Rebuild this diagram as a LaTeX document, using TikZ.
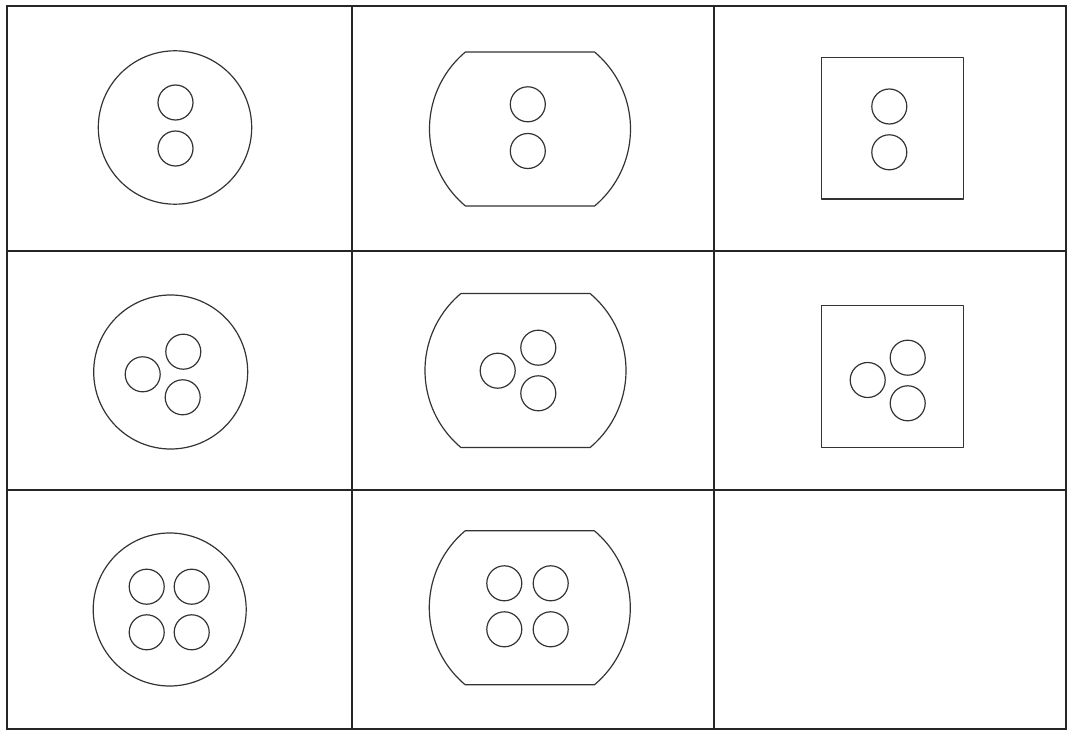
\documentclass[tikz,border=0pt]{standalone}
\begin{document}
\begin{tikzpicture}[x=1pt,y=-1pt,
  grid/.style={draw=black!85,line width=1.8pt},
  outline/.style={draw=black!80,line width=1.2pt,line join=round},
  hole/.style={draw=black!80,line width=1.2pt},
  barrel/.pic={\draw[outline] (64.6,-77) -- (-64.6,-77)
      arc[start angle=-130,end angle=-230,radius=100.5] -- (64.6,77)
      arc[start angle=50,end angle=-50,radius=100.5] -- cycle;}]
\useasboundingbox (0,0) rectangle (1069,730);
% grid
\draw[grid] (7,6) rectangle (1066,729);
\draw[grid] (352,6) -- (352,729);
\draw[grid] (714,6) -- (714,729);
\draw[grid] (7,251) -- (1066,251);
\draw[grid] (7,490) -- (1066,490);
% row 1
\draw[outline] (175,127.5) circle[radius=76.7];
\draw[hole] (175.5,102.5) circle[radius=17.5];
\draw[hole] (175.5,148.5) circle[radius=17.5];
\pic at (530,129) {barrel};
\draw[hole] (527.8,104.3) circle[radius=17.5];
\draw[hole] (527.8,151) circle[radius=17.5];
\draw[outline] (821.7,57.7) rectangle (963.3,199);
\draw[hole] (889.3,106.5) circle[radius=17.5];
\draw[hole] (889.3,152.3) circle[radius=17.5];
% row 2
\draw[outline] (170.7,372) circle[radius=77];
\draw[hole] (142.7,374.3) circle[radius=17.5];
\draw[hole] (183.3,351.7) circle[radius=17.5];
\draw[hole] (182.7,397.3) circle[radius=17.5];
\pic at (525.5,370.5) {barrel};
\draw[hole] (497.7,370.7) circle[radius=17.5];
\draw[hole] (538.3,347.7) circle[radius=17.5];
\draw[hole] (538.3,393.3) circle[radius=17.5];
\draw[outline] (821.7,305.7) rectangle (963.3,447.7);
\draw[hole] (867.7,380) circle[radius=17.5];
\draw[hole] (907.7,357.7) circle[radius=17.5];
\draw[hole] (907.7,403.3) circle[radius=17.5];
% row 3
\draw[outline] (169.7,609.5) circle[radius=76.5];
\draw[hole] (146.7,586.7) circle[radius=17.5];
\draw[hole] (191.7,586.7) circle[radius=17.5];
\draw[hole] (146.7,632.3) circle[radius=17.5];
\draw[hole] (191.7,632.3) circle[radius=17.5];
\pic at (529.8,607.8) {barrel};
\draw[hole] (504.3,583.3) circle[radius=17.5];
\draw[hole] (550.7,583.3) circle[radius=17.5];
\draw[hole] (504.3,629.3) circle[radius=17.5];
\draw[hole] (550.7,629.3) circle[radius=17.5];
\end{tikzpicture}
\end{document}
